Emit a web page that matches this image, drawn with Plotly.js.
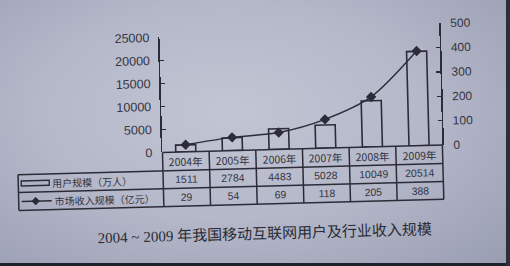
<!DOCTYPE html>
<html>
<head>
<meta charset="utf-8">
<script src="https://cdn.plot.ly/plotly-3.0.1.min.js"></script>
<style>
  html, body { margin: 0; padding: 0; width: 510px; height: 266px; overflow: hidden; }
  body {
    position: relative;
    background: radial-gradient(ellipse 75% 80% at 45% 42%, #c2c5d3 0%, #b5b8c9 50%, #9a9eb3 100%);
  }
  #chart { position: absolute; left: 0; top: 0; width: 510px; height: 266px;
           transform: rotate(-1.5deg); transform-origin: 50% 50%; }
  .edge-b { position: absolute; left: 0; bottom: 0; width: 510px; height: 3px; background: #1e202c; }
  .edge-r { position: absolute; right: 0; top: 0; width: 4px; height: 266px; background: #2c2e3c; }
</style>
</head>
<body>
<div id="chart"></div>
<div class="edge-b"></div>
<div class="edge-r"></div>
<script>
// Mobile internet users and industry revenue, 2004-2009
const years = ['2004年', '2005年', '2006年', '2007年', '2008年', '2009年'];
const users = [1511, 2784, 4483, 5028, 10049, 20514];   // 万人
const revenue = [29, 54, 69, 118, 205, 388];            // 亿元
const userLabel = '用户规模（万人）';
const revenueLabel = '市场收入规模（亿元）';
const caption = '2004 ~ 2009 年我国移动互联网用户及行业收入规模';
const leftTicks = [0, 5000, 10000, 15000, 20000, 25000];
const rightTicks = [0, 100, 200, 300, 400, 500];

// pixel frame of the plotting area; table and caption are laid out below it
const W = 510, H = 266;
const L = 162, R = 442, T = 28, B = 150.5;
const px = x => (x - L) / (R - L);
const py = y => (B - y) / (B - T);

const ink = '#2b2c38';
const textInk = '#33343f';
const sans = '"Liberation Sans", Arial, sans-serif';
const cjk = '"Noto Sans CJK SC", "Liberation Sans", sans-serif';
const serif = '"Liberation Serif", "Noto Sans CJK SC", serif';

const rowTop = 150.5, row1 = 169, row2 = 187, row3 = 205;
const tableLeft = 17;

const traces = [
  {
    type: 'bar', x: years, y: users, name: userLabel,
    xaxis: 'x', yaxis: 'y', width: 0.43,
    marker: { color: 'rgba(0,0,0,0)', line: { color: ink, width: 1.6 } },
    hoverinfo: 'skip'
  },
  {
    type: 'scatter', mode: 'lines+markers', x: years, y: revenue, name: revenueLabel,
    xaxis: 'x', yaxis: 'y2',
    line: { color: ink, width: 1.4, shape: 'spline', smoothing: 0.8 },
    marker: { symbol: 'diamond', size: 8, color: ink },
    hoverinfo: 'skip'
  }
];

const line = (x0, y0, x1, y1, xref) => ({
  type: 'line', xref: xref || 'paper', yref: 'paper',
  x0: x0, x1: x1, y0: y0, y1: y1,
  line: { color: ink, width: 1.5 }
});

const shapes = [];
// horizontal rules of the table
shapes.push(line(px(L), py(rowTop), px(R), py(rowTop)));
[row1, row2, row3].forEach(y => shapes.push(line(px(tableLeft), py(y), px(R), py(y))));
// outer verticals
shapes.push(line(px(tableLeft), py(row1), px(tableLeft), py(row3)));
shapes.push(line(px(L), py(rowTop), px(L), py(row3)));
shapes.push(line(px(R), py(rowTop), px(R), py(row3)));
// column separators on the category scale
for (let i = 0; i < years.length - 1; i++) {
  shapes.push(line(i + 0.5, py(rowTop), i + 0.5, py(row3), 'x'));
}
// legend keys inside the table
const r1c = (rowTop + row1) / 2, r2c = (row1 + row2) / 2, r3c = (row2 + row3) / 2;
shapes.push({
  type: 'rect', xref: 'paper', yref: 'paper',
  x0: px(20), x1: px(48), y0: py(r2c + 2.5), y1: py(r2c - 2.5),
  line: { color: ink, width: 1.4 }, fillcolor: 'rgba(0,0,0,0)'
});
shapes.push(line(px(20), py(r3c), px(50), py(r3c)));
const dx = 3.5 / (R - L), dy = 3.5 / (B - T), cx = px(34), cy = py(r3c);
shapes.push({
  type: 'path', xref: 'paper', yref: 'paper',
  path: `M ${cx - dx},${cy} L ${cx},${cy + dy} L ${cx + dx},${cy} L ${cx},${cy - dy} Z`,
  fillcolor: ink, line: { color: ink, width: 1 }
});

const annotations = [];
const cell = (x, y, text, opts) => Object.assign({
  xref: 'x', yref: 'paper', x: x, y: y, text: text, showarrow: false,
  xanchor: 'center', yanchor: 'middle',
  font: { family: cjk, size: 10.5, color: textInk }
}, opts || {});

years.forEach((yr, i) => {
  annotations.push(cell(i, py(r1c), yr));
  annotations.push(cell(i, py(r2c), String(users[i]), { font: { family: sans, size: 10.5, color: textInk } }));
  annotations.push(cell(i, py(r3c), String(revenue[i]), { font: { family: sans, size: 10.5, color: textInk } }));
});
annotations.push(cell(px(49), py(r2c), userLabel, { xref: 'paper', xanchor: 'left', font: { family: cjk, size: 10, color: textInk } }));
annotations.push(cell(px(51), py(r3c), revenueLabel, { xref: 'paper', xanchor: 'left', font: { family: cjk, size: 10, color: textInk } }));
annotations.push(cell(px(262), py(235), caption, { xref: 'paper', font: { family: serif, size: 15, color: '#2a2b36' } }));

const layout = {
  width: W, height: H,
  margin: { l: L, r: W - R, t: T, b: H - B, pad: 0 },
  paper_bgcolor: 'rgba(0,0,0,0)',
  plot_bgcolor: 'rgba(0,0,0,0)',
  showlegend: false,
  xaxis: {
    type: 'category', range: [-0.5, years.length - 0.5],
    showticklabels: false, ticks: '', showline: false, showgrid: false, zeroline: false,
    fixedrange: true
  },
  yaxis: {
    domain: [0, (B - 35) / (B - T)], range: [0, 25000],
    tickvals: leftTicks, ticktext: leftTicks.map(String),
    ticks: 'inside', ticklen: 4, tickwidth: 1.4, tickcolor: ink,
    showline: true, linecolor: ink, linewidth: 1.6,
    showgrid: false, zeroline: false, ticklabelstandoff: 6,
    tickfont: { family: sans, size: 12.5, color: textInk }
  },
  yaxis2: {
    anchor: 'x', side: 'right', domain: [0, 1], range: [0, 500],
    tickvals: rightTicks, ticktext: rightTicks.map(String),
    ticks: 'inside', ticklen: 4, tickwidth: 1.4, tickcolor: ink,
    showline: true, linecolor: ink, linewidth: 1.6,
    showgrid: false, zeroline: false, ticklabelstandoff: 7,
    tickfont: { family: sans, size: 12, color: textInk }
  },
  shapes: shapes,
  annotations: annotations
};

Plotly.newPlot('chart', traces, layout, { staticPlot: true, displayModeBar: false });
</script>
</body>
</html>
